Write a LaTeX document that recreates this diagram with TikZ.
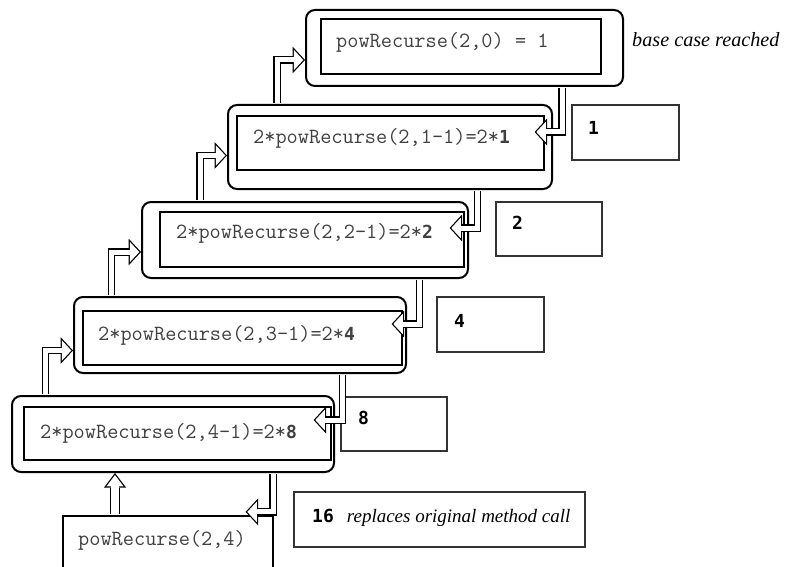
\documentclass[tikz,border=0pt]{standalone}
\usepackage{fontspec}
\setmainfont{Liberation Serif}
\newfontfamily\valfont{DejaVu Sans Mono}
\usetikzlibrary{arrows.meta}

\newcommand{\val}[1]{{\valfont\upshape\bfseries\fontsize{18}{20}\selectfont #1}}

\begin{document}
\begin{tikzpicture}[x=1pt,y=-1pt]
        \tikzstyle{every node} = [rectangle, inner sep=0pt]
        \tikzstyle{frame} = [draw, line width=2pt, rounded corners=9pt]
        \tikzstyle{cell} = [draw, line width=1.2pt]
        \tikzstyle{result} = [draw=black!80, line width=1.2pt]
        \tikzstyle{code} = [anchor=west, text=black!75, font=\ttfamily\fontsize{21.7}{24}\selectfont]
        \tikzstyle{note} = [anchor=west, font=\itshape\fontsize{20.2}{22}\selectfont]
        \tikzstyle{hollow} = [line width=7.5pt, shorten <=1pt,
            -{Triangle[length=12.5pt,width=27pt,line width=0pt]},
            postaction={draw=white, line width=5pt, shorten >=1.7pt,
              -{Triangle[length=9.55pt,width=20.6pt,line width=0pt]}}]
        \tikzstyle{hollowwide} = [line width=10pt, shorten <=1pt,
            -{Triangle[length=14.5pt,width=22pt,line width=0pt]},
            postaction={draw=white, line width=7.5pt, shorten >=2.1pt,
              -{Triangle[length=11.15pt,width=16.9pt,line width=0pt]}}]
        \useasboundingbox (0,0) rectangle (790,567);
        \clip (0,0) rectangle (790,567);

        % stack of calls
        \node[frame, minimum width=317pt, minimum height=76pt] (lvl0) at (464.5,48) {};
        \node[cell, minimum width=280pt, minimum height=55pt] (in0) at (461,46.5) {};
        \node[code] (e0) at (336,42) {powRecurse(2,0) = 1};
        \node[note] (base) at (632,40) {base case reached};

        \node[frame, minimum width=324pt, minimum height=84pt] (lvl1) at (390,147) {};
        \node[cell, minimum width=307pt, minimum height=54pt] (in1) at (390.5,143) {};
        \node[code] (e1) at (253,138) {2*powRecurse(2,1-1)=2*\val{1}};

        \node[frame, minimum width=326pt, minimum height=76pt] (lvl2) at (305,240) {};
        \node[cell, minimum width=304pt, minimum height=55pt] (in2) at (312,239.5) {};
        \node[code] (e2) at (176,233) {2*powRecurse(2,2-1)=2*\val{2}};

        \node[frame, minimum width=332pt, minimum height=76pt] (lvl3) at (240,335) {};
        \node[cell, minimum width=319pt, minimum height=54pt] (in3) at (242.5,338) {};
        \node[code] (e3) at (98,335) {2*powRecurse(2,3-1)=2*\val{4}};

        \node[frame, minimum width=322pt, minimum height=76pt] (lvl4) at (173,434) {};
        \node[cell, minimum width=307pt, minimum height=53pt] (in4) at (177.5,433.5) {};
        \node[code] (e4) at (40,433) {2*powRecurse(2,4-1)=2*\val{8}};

        \node[cell, minimum width=210pt, minimum height=64pt] (call) at (168,548) {};
        \node[code] (ec) at (78,540) {powRecurse(2,4)};

        % returned values
        \node[result, minimum width=107pt, minimum height=55pt] (r1) at (625.5,132.5) {};
        \node[anchor=west] (v1) at (588,128) {\val{1}};
        \node[result, minimum width=106pt, minimum height=54pt] (r2) at (549,229) {};
        \node[anchor=west] (v2) at (512,223) {\val{2}};
        \node[result, minimum width=107pt, minimum height=55pt] (r4) at (490.5,324.5) {};
        \node[anchor=west] (v4) at (454,321) {\val{4}};
        \node[result, minimum width=106pt, minimum height=54pt] (r8) at (394,424) {};
        \node[anchor=west] (v8) at (358,418) {\val{8}};
        \node[result, minimum width=291pt, minimum height=55pt] (r16) at (439.5,519.5) {};
        \node[note, font=\itshape\fontsize{19}{22}\selectfont] (v16) at (312,518) {\val{16}\hspace{13pt}replaces original method call};

        % calls going up
        \foreach \from/\to/\x/\dy in {lvl1/lvl0/277/-12, lvl2/lvl1/200/-8.5, lvl3/lvl2/111.5/-12, lvl4/lvl3/45.5/-15.5}
            \draw[hollow] (\from.north -| \x,0) |- ([yshift=\dy pt]\to.west);
        \draw[hollowwide] (call.north -| 115,0) -- (lvl4.south -| 115,0);

        % values coming back down
        \foreach \from/\to/\x/\dx/\dy in {lvl0/in1/562/-10/11, lvl1/in2/477.5/-15/11.5, lvl2/in3/419.5/-11/14, lvl3/in4/342.5/-18/13.5}
            \draw[hollow] (\from.south -| \x,0) |- ([xshift=\dx pt,yshift=\dy pt]\to.east);
        \draw[hollow] (lvl4.south -| 273,0) |- ([xshift=-28pt,yshift=3.5pt]call.north east);
\end{tikzpicture}
\end{document}
